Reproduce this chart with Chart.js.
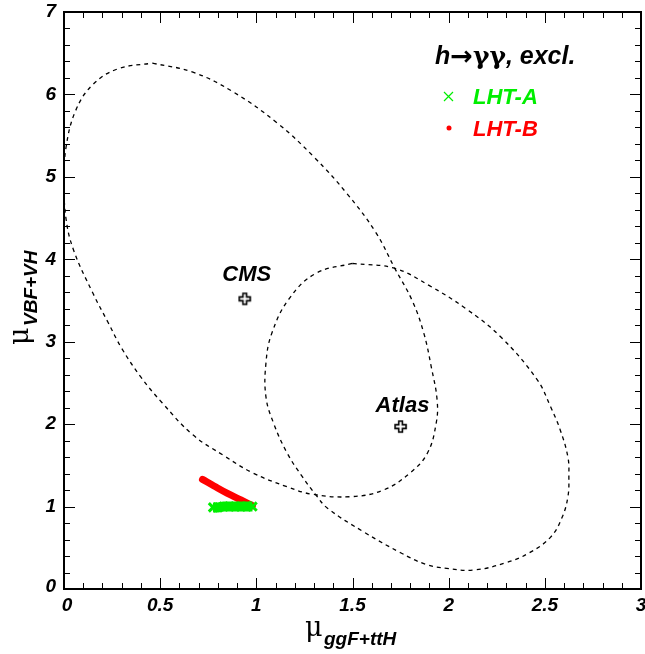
<!DOCTYPE html>
<html>
<head>
<meta charset="utf-8">
<script src="https://cdn.jsdelivr.net/npm/chart.js@4.4.1/dist/chart.umd.min.js"></script>
<style>
  body { margin: 0; background: #fff; }
  canvas { display: block; }
</style>
</head>
<body>
<canvas id="chart" width="645" height="654"></canvas>
<script>
// axis ticks
const xTicks = [0, 0.5, 1, 1.5, 2, 2.5, 3];
const xTickLabels = ['0', '0.5', '1', '1.5', '2', '2.5', '3'];
const yTicks = [0, 1, 2, 3, 4, 5, 6, 7];
const yTickLabels = ['0', '1', '2', '3', '4', '5', '6', '7'];

// CMS 68% contour (clockwise from the top)
const cmsContour = [
  {x: 0.46, y: 6.38}, {x: 0.67, y: 6.27}, {x: 0.88, y: 6.03}, {x: 1.11, y: 5.65},
  {x: 1.30, y: 5.24}, {x: 1.47, y: 4.80}, {x: 1.62, y: 4.33}, {x: 1.72, y: 3.89},
  {x: 1.81, y: 3.50}, {x: 1.87, y: 3.11}, {x: 1.91, y: 2.69}, {x: 1.94, y: 2.29},
  {x: 1.935, y: 2.01}, {x: 1.89, y: 1.65}, {x: 1.80, y: 1.41}, {x: 1.66, y: 1.20},
  {x: 1.49, y: 1.12}, {x: 1.29, y: 1.15}, {x: 1.16, y: 1.24},
  {x: 0.98, y: 1.41}, {x: 0.83, y: 1.62}, {x: 0.67, y: 1.87}, {x: 0.51, y: 2.26},
  {x: 0.40, y: 2.57}, {x: 0.30, y: 2.92}, {x: 0.23, y: 3.23}, {x: 0.15, y: 3.59},
  {x: 0.05, y: 4.11}, {x: 0.01, y: 4.50}, {x: 0.00, y: 4.95}, {x: 0.01, y: 5.35},
  {x: 0.06, y: 5.80}, {x: 0.15, y: 6.12}, {x: 0.28, y: 6.31}, {x: 0.46, y: 6.38}
];

// Atlas 68% contour (clockwise from the top)
const atlasContour = [
  {x: 1.50, y: 3.95}, {x: 1.72, y: 3.89}, {x: 1.90, y: 3.68}, {x: 2.09, y: 3.40},
  {x: 2.27, y: 3.06}, {x: 2.46, y: 2.54}, {x: 2.53, y: 2.21}, {x: 2.58, y: 1.93},
  {x: 2.62, y: 1.60}, {x: 2.625, y: 1.36}, {x: 2.62, y: 1.12}, {x: 2.59, y: 0.87},
  {x: 2.53, y: 0.63}, {x: 2.42, y: 0.44}, {x: 2.30, y: 0.32}, {x: 2.13, y: 0.23},
  {x: 1.99, y: 0.25}, {x: 1.88, y: 0.30}, {x: 1.75, y: 0.44}, {x: 1.56, y: 0.69},
  {x: 1.37, y: 0.98}, {x: 1.31, y: 1.14}, {x: 1.24, y: 1.36}, {x: 1.16, y: 1.65},
  {x: 1.09, y: 2.01}, {x: 1.05, y: 2.33}, {x: 1.05, y: 2.74}, {x: 1.08, y: 3.10},
  {x: 1.17, y: 3.52}, {x: 1.31, y: 3.83}, {x: 1.50, y: 3.95}
];

// best fit points
const cmsBest = [{x: 0.94, y: 3.52}];
const atlasBest = [{x: 1.75, y: 1.97}];
const expLabels = [
  {text: 'CMS', x: 0.95, y: 3.74},
  {text: 'Atlas', x: 1.76, y: 2.15}
];

// model scan points
const lhtA = [
  {x: 0.775, y: 0.99}, {x: 0.80, y: 0.99}, {x: 0.83, y: 1.00}, {x: 0.86, y: 1.00},
  {x: 0.89, y: 1.00}, {x: 0.92, y: 1.00}, {x: 0.95, y: 1.00}, {x: 0.98, y: 1.00}
];
const lhtB = [
  {x: 0.72, y: 1.33}, {x: 0.78, y: 1.25}, {x: 0.85, y: 1.16}, {x: 0.92, y: 1.08}, {x: 0.98, y: 1.01}
];

const labelFont = 'bold italic 19px "Liberation Sans", Arial, sans-serif';
const textFont = 'bold italic 22px "Liberation Sans", Arial, sans-serif';

// open cross marker (ROOT style 28)
function openCross(size) {
  const c = document.createElement('canvas');
  c.width = size + 4; c.height = size + 4;
  const g = c.getContext('2d');
  const o = 2, a = size / 3;
  g.beginPath();
  g.moveTo(o + a, o); g.lineTo(o + 2 * a, o); g.lineTo(o + 2 * a, o + a);
  g.lineTo(o + size, o + a); g.lineTo(o + size, o + 2 * a); g.lineTo(o + 2 * a, o + 2 * a);
  g.lineTo(o + 2 * a, o + size); g.lineTo(o + a, o + size); g.lineTo(o + a, o + 2 * a);
  g.lineTo(o, o + 2 * a); g.lineTo(o, o + a); g.lineTo(o + a, o + a);
  g.closePath();
  g.fillStyle = '#fff'; g.fill();
  g.lineWidth = 1.6; g.strokeStyle = '#000'; g.stroke();
  return c;
}
const crossImg = openCross(11);

const framePlugin = {
  id: 'framePlugin',
  afterDraw(chart) {
    const ctx = chart.ctx;
    const xs = chart.scales.x, ys = chart.scales.y;
    const {left, right, top, bottom} = chart.chartArea;
    ctx.save();
    ctx.strokeStyle = '#000';
    ctx.lineWidth = 1;
    // minor + major ticks
    for (let i = 0; i <= 30; i++) {
      const v = i / 10;
      const px = Math.round(xs.getPixelForValue(v)) + 0.5;
      const len = (i % 5 === 0) ? 11 : 6;
      ctx.beginPath();
      ctx.moveTo(px, bottom); ctx.lineTo(px, bottom - len);
      ctx.moveTo(px, top); ctx.lineTo(px, top + len);
      ctx.stroke();
    }
    for (let i = 0; i <= 35; i++) {
      const v = i / 5;
      const py = Math.round(ys.getPixelForValue(v)) + 0.5;
      const len = (i % 5 === 0) ? 11 : 6;
      ctx.beginPath();
      ctx.moveTo(left, py); ctx.lineTo(left + len, py);
      ctx.moveTo(right, py); ctx.lineTo(right - len, py);
      ctx.stroke();
    }
    // frame
    ctx.lineWidth = 2;
    ctx.strokeRect(left, top, right - left, bottom - top);

    // tick labels
    ctx.fillStyle = '#000';
    ctx.font = labelFont;
    ctx.textAlign = 'center';
    ctx.textBaseline = 'top';
    xTicks.forEach((v, i) => {
      ctx.fillText(xTickLabels[i], xs.getPixelForValue(v) + (i === 0 ? 3 : 0), bottom + 7);
    });
    ctx.textAlign = 'right';
    ctx.textBaseline = 'middle';
    yTicks.forEach((v, i) => {
      ctx.fillText(yTickLabels[i], left - 8, ys.getPixelForValue(v) - (i === 0 ? 2 : 0));
    });

    // axis titles
    ctx.textAlign = 'left';
    ctx.textBaseline = 'alphabetic';
    ctx.font = '27px "DejaVu Serif", serif';
    ctx.fillText('\u03bc', 305, 636);
    ctx.font = 'bold italic 19px "Liberation Sans", Arial, sans-serif';
    ctx.fillText('ggF+ttH', 324, 645);

    ctx.save();
    ctx.translate(28, 345);
    ctx.rotate(-Math.PI / 2);
    ctx.font = '27px "DejaVu Serif", serif';
    ctx.fillText('\u03bc', 0, 0);
    ctx.font = 'bold italic 19px "Liberation Sans", Arial, sans-serif';
    ctx.fillText('VBF+VH', 19, 9);
    ctx.restore();

    // experiment labels
    ctx.font = textFont;
    ctx.textAlign = 'center';
    expLabels.forEach(l => {
      ctx.fillText(l.text, xs.getPixelForValue(l.x), ys.getPixelForValue(l.y));
    });

    // legend title: h -> gamma gamma, excl.
    ctx.textAlign = 'left';
    let tx = 435;
    const parts = [
      ['h', 'bold italic 25px "Liberation Sans", Arial, sans-serif', 64],
      ['\u2192', 'bold 27px "DejaVu Sans", sans-serif', 65],
      ['\u03b3\u03b3', 'bold 25px "DejaVu Serif", serif', 64],
      [', excl.', 'bold italic 25px "Liberation Sans", Arial, sans-serif', 64]
    ];
    parts.forEach(([s, f, by]) => {
      ctx.font = f;
      ctx.fillText(s, tx, by);
      tx += ctx.measureText(s).width;
    });

    ctx.font = textFont;
    ctx.fillStyle = '#00ee00';
    ctx.fillText('LHT-A', 473, 104);
    ctx.strokeStyle = '#00ee00';
    ctx.lineWidth = 1.2;
    ctx.beginPath();
    ctx.moveTo(444, 92); ctx.lineTo(453, 101);
    ctx.moveTo(453, 92); ctx.lineTo(444, 101);
    ctx.stroke();
    ctx.fillStyle = '#ff0000';
    ctx.fillText('LHT-B', 473, 136);
    ctx.beginPath();
    ctx.arc(449, 128, 2.5, 0, Math.PI * 2);
    ctx.fill();
    ctx.restore();
  }
};

new Chart(document.getElementById('chart'), {
  type: 'scatter',
  data: {
    datasets: [
      {
        label: 'CMS',
        data: cmsContour,
        showLine: true,
        borderColor: '#000',
        borderWidth: 1.3,
        borderDash: [4, 4],
        tension: 0.4,
        pointRadius: 0,
        fill: false
      },
      {
        label: 'Atlas',
        data: atlasContour,
        showLine: true,
        borderColor: '#000',
        borderWidth: 1.3,
        borderDash: [4, 4],
        tension: 0.4,
        pointRadius: 0,
        fill: false
      },
      {
        label: 'LHT-A',
        data: lhtA,
        showLine: true,
        borderColor: '#00ee00',
        borderWidth: 10,
        pointStyle: 'crossRot',
        pointRadius: 6,
        pointBorderWidth: 3,
        pointBorderColor: '#00ee00'
      },
      {
        label: 'LHT-B',
        data: lhtB,
        showLine: true,
        borderColor: '#ff0000',
        borderWidth: 7,
        borderCapStyle: 'round',
        tension: 0.4,
        pointRadius: 0
      },
      {
        label: 'CMS best',
        data: cmsBest,
        pointStyle: crossImg,
        pointRadius: 6
      },
      {
        label: 'Atlas best',
        data: atlasBest,
        pointStyle: crossImg,
        pointRadius: 6
      }
    ]
  },
  options: {
    responsive: false,
    animation: false,
    layout: { autoPadding: false, padding: { left: 64, right: 4, top: 12, bottom: 65 } },
    scales: {
      x: { type: 'linear', min: 0, max: 3, display: false },
      y: { type: 'linear', min: 0, max: 7, display: false }
    },
    plugins: {
      legend: { display: false },
      tooltip: { enabled: false }
    }
  },
  plugins: [framePlugin]
});
</script>
</body>
</html>
